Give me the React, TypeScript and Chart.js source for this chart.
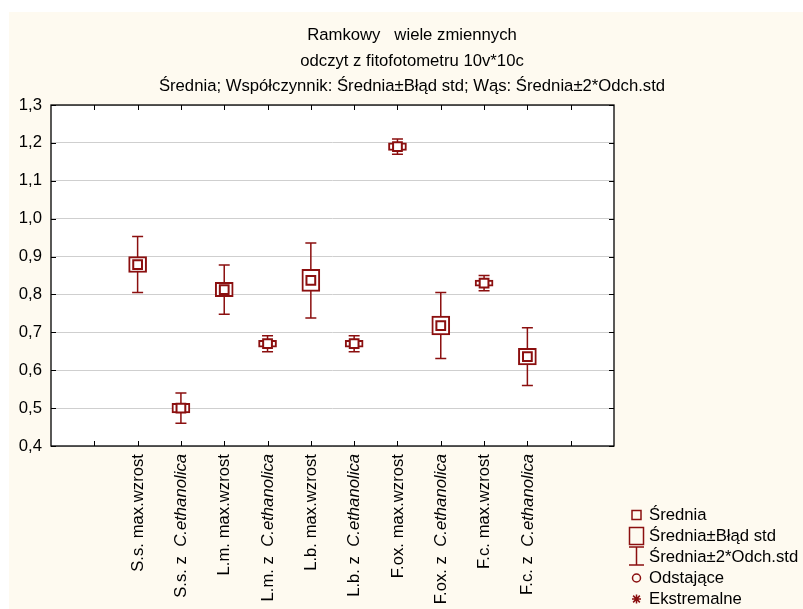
import React, { useEffect, useRef } from 'react';
import { Chart, registerables } from 'chart.js';

Chart.register(...registerables);

// ---- data ----
const titleLines = [
  'Ramkowy   wiele zmiennych',
  'odczyt z fitofotometru 10v*10c',
  'Średnia; Współczynnik: Średnia±Błąd std; Wąs: Średnia±2*Odch.std',
];
const categories = [
  'S.s. max.wzrost',
  'S.s. z  C.ethanolica',
  'L.m. max.wzrost',
  'L.m. z  C.ethanolica',
  'L.b. max.wzrost',
  'L.b. z  C.ethanolica',
  'F.ox. max.wzrost',
  'F.ox. z  C.ethanolica',
  'F.c. max.wzrost',
  'F.c. z  C.ethanolica',
];
const italicWord = 'C.ethanolica';
const means = [0.879, 0.5, 0.813, 0.67, 0.837, 0.67, 1.19, 0.718, 0.83, 0.636];
const stdErrors = [0.021, 0.0125, 0.019, 0.009, 0.029, 0.009, 0.01, 0.025, 0.008, 0.022];
const twoStdDevs = [0.074, 0.04, 0.065, 0.021, 0.099, 0.021, 0.02, 0.087, 0.02, 0.076];
const legendLabels = ['Średnia', 'Średnia±Błąd std', 'Średnia±2*Odch.std', 'Odstające', 'Ekstremalne'];
const yMin = 0.4;
const yMax = 1.3;
const yStep = 0.1;

// ---- layout / style constants ----
const W = 803;
const H = 609;
const SLOT_OFFSET = 2;
const SLOTS = 13;
const RED = '#8b0f0f';
const FONT_FAMILY = '"Liberation Sans", Arial, sans-serif';
const FONT_SIZE = 16.7;

const xOf = (i: number) => i + SLOT_OFFSET;

const statPlugin = {
  id: 'statisticaBox',
  beforeDraw(chart: any) {
    const { ctx, chartArea: a } = chart;
    ctx.save();
    ctx.fillStyle = '#ffffff';
    ctx.fillRect(0, 0, W, H);
    ctx.fillStyle = '#fefaf0';
    ctx.fillRect(9, 12, W - 9, H - 12);
    ctx.fillStyle = '#ffffff';
    ctx.fillRect(a.left, a.top, a.right - a.left, a.bottom - a.top);
    ctx.restore();
  },
  beforeDatasetsDraw(chart: any) {
    const { ctx } = chart;
    const xs = chart.scales.x;
    const ys = chart.scales.y;
    ctx.save();
    ctx.strokeStyle = RED;
    ctx.lineWidth = 1.5;
    means.forEach((m, i) => {
      const x = xs.getPixelForValue(xOf(i));
      const yt = ys.getPixelForValue(m + twoStdDevs[i]);
      const yb = ys.getPixelForValue(m - twoStdDevs[i]);
      ctx.beginPath();
      ctx.moveTo(x, yt);
      ctx.lineTo(x, yb);
      ctx.moveTo(x - 5.5, yt);
      ctx.lineTo(x + 5.5, yt);
      ctx.moveTo(x - 5.5, yb);
      ctx.lineTo(x + 5.5, yb);
      ctx.stroke();
    });
    ctx.restore();
  },
  afterDraw(chart: any) {
    const { ctx, chartArea: a } = chart;
    const xs = chart.scales.x;
    const ys = chart.scales.y;
    ctx.save();
    // frame
    ctx.strokeStyle = '#000';
    ctx.lineWidth = 1.3;
    ctx.strokeRect(a.left, a.top, a.right - a.left, a.bottom - a.top);
    // tick marks
    ctx.lineWidth = 1;
    ctx.beginPath();
    xs.ticks.forEach((t: any) => {
      if (t.value <= 0 || t.value >= SLOTS) return;
      const x = Math.round(xs.getPixelForValue(t.value)) + 0.5;
      ctx.moveTo(x, a.bottom);
      ctx.lineTo(x, a.bottom - 5);
      ctx.moveTo(x, a.top);
      ctx.lineTo(x, a.top + 5);
    });
    ys.ticks.forEach((t: any) => {
      const y = Math.round(ys.getPixelForValue(t.value)) + 0.5;
      ctx.moveTo(a.right, y);
      ctx.lineTo(a.right - 5, y);
      ctx.moveTo(a.left, y);
      ctx.lineTo(a.left + 5, y);
    });
    ctx.stroke();

    // x labels (rotated, italic species name)
    ctx.fillStyle = '#000';
    ctx.textBaseline = 'middle';
    const normalFont = `${FONT_SIZE}px ${FONT_FAMILY}`;
    const italicFont = `italic ${FONT_SIZE}px ${FONT_FAMILY}`;
    categories.forEach((label, i) => {
      const x = xs.getPixelForValue(xOf(i));
      const idx = label.indexOf(italicWord);
      const p1 = idx >= 0 ? label.slice(0, idx) : label;
      const p2 = idx >= 0 ? label.slice(idx) : '';
      ctx.font = normalFont;
      const w1 = ctx.measureText(p1).width;
      ctx.font = italicFont;
      const w2 = p2 ? ctx.measureText(p2).width : 0;
      ctx.save();
      ctx.translate(x + 0.5, a.bottom + 8);
      ctx.rotate(-Math.PI / 2);
      ctx.textAlign = 'left';
      const start = -(w1 + w2);
      ctx.font = normalFont;
      ctx.fillText(p1, start, 0);
      if (p2) {
        ctx.font = italicFont;
        ctx.fillText(p2, start + w1, 0);
      }
      ctx.restore();
    });

    // titles
    ctx.font = normalFont;
    ctx.textAlign = 'center';
    const titleY = [35, 61, 86];
    titleLines.forEach((t, i) => ctx.fillText(t, 412, titleY[i]));

    // legend
    const sx = 636.5;
    const tx = 649;
    const rowY = (i: number) => 515 + 21 * i;
    ctx.strokeStyle = RED;
    ctx.lineWidth = 1.5;
    // mean square
    ctx.strokeRect(sx - 4.5, rowY(0) - 4.5, 9, 9);
    // SE box
    ctx.strokeRect(sx - 7, rowY(1) - 8.5, 14, 17);
    // whisker
    ctx.beginPath();
    ctx.moveTo(sx, rowY(2) - 10);
    ctx.lineTo(sx, rowY(2) + 8);
    ctx.moveTo(sx - 7.5, rowY(2) - 10);
    ctx.lineTo(sx + 7.5, rowY(2) - 10);
    ctx.moveTo(sx - 7.5, rowY(2) + 8);
    ctx.lineTo(sx + 7.5, rowY(2) + 8);
    ctx.stroke();
    // outlier circle
    ctx.beginPath();
    ctx.arc(sx, rowY(3), 4, 0, Math.PI * 2);
    ctx.stroke();
    // extreme asterisk
    const r = 4.5;
    const cy = rowY(4);
    ctx.beginPath();
    ctx.moveTo(sx, cy - r);
    ctx.lineTo(sx, cy + r);
    ctx.moveTo(sx - r, cy);
    ctx.lineTo(sx + r, cy);
    ctx.moveTo(sx - r * 0.75, cy - r * 0.75);
    ctx.lineTo(sx + r * 0.75, cy + r * 0.75);
    ctx.moveTo(sx - r * 0.75, cy + r * 0.75);
    ctx.lineTo(sx + r * 0.75, cy - r * 0.75);
    ctx.stroke();
    ctx.fillStyle = '#000';
    ctx.textAlign = 'left';
    ctx.textBaseline = 'middle';
    ctx.font = normalFont;
    legendLabels.forEach((t, i) => ctx.fillText(t, tx, rowY(i)));
    ctx.restore();
  },
};

export default function App() {
  const ref = useRef<HTMLCanvasElement | null>(null);
  useEffect(() => {
    if (!ref.current) return;
    const chart = new Chart(ref.current, {
      type: 'bar',
      data: {
        datasets: [
          {
            type: 'scatter',
            label: 'Średnia',
            data: means.map((m, i) => ({ x: xOf(i), y: m })),
            pointStyle: 'rect',
            pointRadius: 6.2,
            borderWidth: 2,
            borderColor: RED,
            backgroundColor: '#ffffff',
            order: 0,
          } as any,
          {
            type: 'bar',
            label: 'Średnia±Błąd std',
            data: means.map((m, i) => ({ x: xOf(i), y: [m - stdErrors[i], m + stdErrors[i]] })),
            backgroundColor: '#ffffff',
            borderColor: RED,
            borderWidth: 2,
            borderSkipped: false,
            barThickness: 18,
            order: 1,
          } as any,
        ],
      },
      options: {
        animation: false,
        responsive: false,
        events: [],
        layout: { padding: { left: 0, top: 105, right: W - 614, bottom: 0 } },
        plugins: { legend: { display: false }, title: { display: false }, tooltip: { enabled: false } },
        scales: {
          x: {
            type: 'linear',
            position: 'bottom',
            min: 0,
            max: SLOTS,
            offset: false,
            ticks: { display: false, stepSize: 1 },
            grid: { display: false, offset: false },
            border: { display: false },
            afterFit: (s: any) => {
              s.height = H - 446;
            },
          },
          y: {
            type: 'linear',
            min: yMin,
            max: yMax,
            ticks: {
              stepSize: yStep,
              padding: 9,
              color: '#000',
              font: { family: FONT_FAMILY, size: FONT_SIZE },
              callback: (v: any) => Number(v).toFixed(1).replace('.', ','),
            },
            grid: { color: '#cfcfcf', lineWidth: 1, drawTicks: false },
            border: { display: false },
            afterFit: (s: any) => {
              s.width = 51;
            },
          },
        },
      } as any,
      plugins: [statPlugin],
    });
    return () => chart.destroy();
  }, []);
  return (
    <div style={{ position: 'fixed', left: 0, top: 0, width: W, height: H }}>
      <canvas ref={ref} width={W} height={H} style={{ width: W, height: H, display: 'block' }} />
    </div>
  );
}
